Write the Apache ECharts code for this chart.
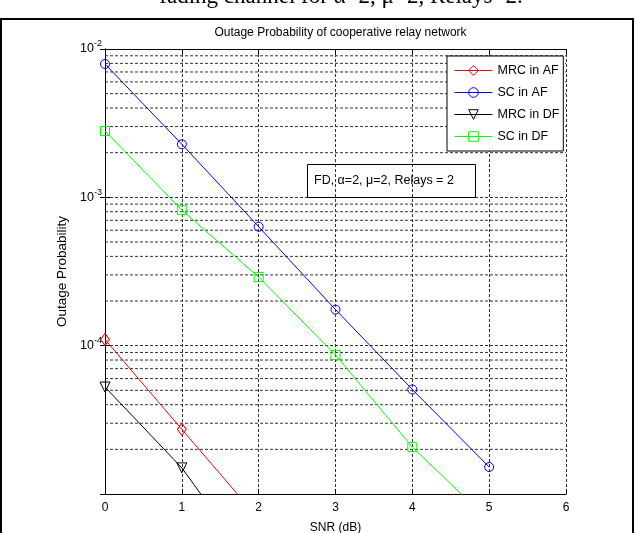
<!DOCTYPE html>
<html>
<head>
<meta charset="utf-8">
<script src="https://cdn.jsdelivr.net/npm/echarts@6/dist/echarts.min.js"></script>
<style>html,body{margin:0;padding:0;background:#fff}#c{width:635px;height:533px}</style>
</head>
<body>
<div id="c"></div>
<script>
// ---- data ----
const snrDb = [0, 1, 2, 3, 4, 5];
const xTickLabels = ['0', '1', '2', '3', '4', '5', '6'];
const mrcAF = [1.10e-4, 2.73e-5, 6.8e-6];
const scAF = [7.92e-3, 2.28e-3, 6.34e-4, 1.75e-4, 5.07e-5, 1.52e-5];
const mrcDF = [5.26e-5, 1.50e-5, 2.9e-6];
const scDF = [2.80e-3, 8.2e-4, 2.90e-4, 8.65e-5, 2.07e-5, 6.6e-6];
const minorGrid = [2e-5,3e-5,4e-5,5e-5,6e-5,7e-5,8e-5,9e-5,
                   2e-4,3e-4,4e-4,5e-4,6e-4,7e-4,8e-4,9e-4,
                   2e-3,3e-3,4e-3,5e-3,6e-3,7e-3,8e-3,9e-3];

const FONT = 'Liberation Sans, Arial, sans-serif';
const dash = {type: [3, 2], color: '#333', width: 1};
function pairs(vals) { return vals.map((v, i) => [snrDb[i], v]); }
function mk(name, vals, color, symbol, size, rot) {
  return {
    name, type: 'line', data: pairs(vals), clip: true,
    symbol, symbolSize: size, symbolRotate: rot || 0,
    showAllSymbol: true,
    lineStyle: {color, width: 1},
    itemStyle: {color: 'rgba(255,255,255,0)', borderColor: color, borderWidth: 1},
    emphasis: {disabled: true}, z: 5, animation: false
  };
}
const gridSeries = minorGrid.map(v => ({
  type: 'line', data: [[0, v], [6, v]], symbol: 'none', silent: true, z: 1,
  lineStyle: dash, emphasis: {disabled: true}, animation: false, legendHoverLink: false
}));

const chart = echarts.init(document.getElementById('c'), null, {renderer: 'canvas'});
chart.setOption({
  backgroundColor: '#fff',
  animation: false,
  title: {
    text: 'Outage Probability of cooperative relay network',
    left: 335.5, top: 22, textAlign: 'center',
    textStyle: {fontFamily: FONT, fontSize: 12, fontWeight: 'normal', color: '#000'}
  },
  grid: {left: 105, right: 69, top: 49, bottom: 39, containLabel: false, outerBoundsMode: 'none'},
  xAxis: [{
    type: 'value', min: 0, max: 6, interval: 1,
    name: 'SNR (dB)', nameLocation: 'middle', nameGap: 28,
    nameTextStyle: {fontFamily: FONT, fontSize: 12, color: '#000'},
    axisLine: {lineStyle: {color: '#000'}},
    axisTick: {inside: true, length: 5, lineStyle: {color: '#000'}},
    axisLabel: {fontFamily: FONT, fontSize: 12, color: '#000', margin: 8,
      formatter: v => xTickLabels[Math.round(v)]},
    splitLine: {show: true, lineStyle: dash}
  }, {
    type: 'value', min: 0, max: 6, interval: 1, position: 'top',
    axisLine: {lineStyle: {color: '#000'}},
    axisTick: {inside: true, length: 5, lineStyle: {color: '#000'}},
    axisLabel: {show: false}, splitLine: {show: false}
  }],
  yAxis: [{
    type: 'log', logBase: 10, min: 1e-5, max: 1e-2,
    name: 'Outage Probability', nameLocation: 'middle', nameGap: 25,
    nameTextStyle: {fontFamily: FONT, fontSize: 13.5, color: '#000'},
    axisLine: {lineStyle: {color: '#000'}},
    axisTick: {inside: true, length: 5, lineStyle: {color: '#000'}},
    axisLabel: {showMinLabel: false, margin: 3,
      formatter: v => '{a|10}{b|' + Math.round(Math.log10(v)) + '}',
      rich: {
        a: {fontFamily: FONT, fontSize: 12.5, color: '#000'},
        b: {fontFamily: FONT, fontSize: 9, color: '#000', padding: [0, 0, 10, 0]}
      }},
    splitLine: {show: true, lineStyle: dash}
  }, {
    type: 'log', logBase: 10, min: 1e-5, max: 1e-2, position: 'right',
    axisLine: {lineStyle: {color: '#000'}},
    axisTick: {inside: true, length: 5, lineStyle: {color: '#000'}},
    axisLabel: {show: false}, splitLine: {show: false}
  }],
  legend: {
    orient: 'vertical', left: 447, top: 56,
    padding: [8, 4, 8, 7], itemGap: 9, itemWidth: 38, itemHeight: 12,
    backgroundColor: '#fff', borderColor: '#000', borderWidth: 1, borderRadius: 0,
    lineStyle: {width: 1},
    itemStyle: {borderWidth: 1},
    textStyle: {fontFamily: FONT, fontSize: 12.5, color: '#000'},
    data: ['MRC in AF', 'SC in AF', 'MRC in DF', 'SC in DF'],
    selectedMode: false
  },
  series: [
    ...gridSeries,
    mk('MRC in AF', mrcAF, '#ff0000', 'diamond', [9, 12]),
    mk('SC in AF', scAF, '#0000ff', 'circle', 9),
    mk('MRC in DF', mrcDF, '#000000', 'triangle', 10, 180),
    mk('SC in DF', scDF, '#00ff00', 'rect', 9)
  ],
  graphic: [
    {type: 'rect', shape: {x: 1, y: 19, width: 632, height: 520},
     style: {fill: 'none', stroke: '#000', lineWidth: 2}, silent: true},
    {type: 'text', x: 341, y: 8,
     style: {text: 'fading channel for \u03b1=2, \u03bc=2, Relays=2.', fontFamily: 'Liberation Serif, Times New Roman, serif',
       fontSize: 23, fill: '#000', align: 'center', verticalAlign: 'bottom'}, silent: true},
    {type: 'rect', shape: {x: 307.5, y: 164.5, width: 168, height: 33},
     style: {fill: 'none', stroke: '#000', lineWidth: 1}, silent: true, z: 10},
    {type: 'text', x: 314, y: 181,
     style: {text: 'FD, \u03b1=2, \u03bc=2, Relays = 2', fontFamily: FONT, fontSize: 12.5, fill: '#000',
       align: 'left', verticalAlign: 'middle'}, silent: true, z: 10}
  ]
});
</script>
</body>
</html>
